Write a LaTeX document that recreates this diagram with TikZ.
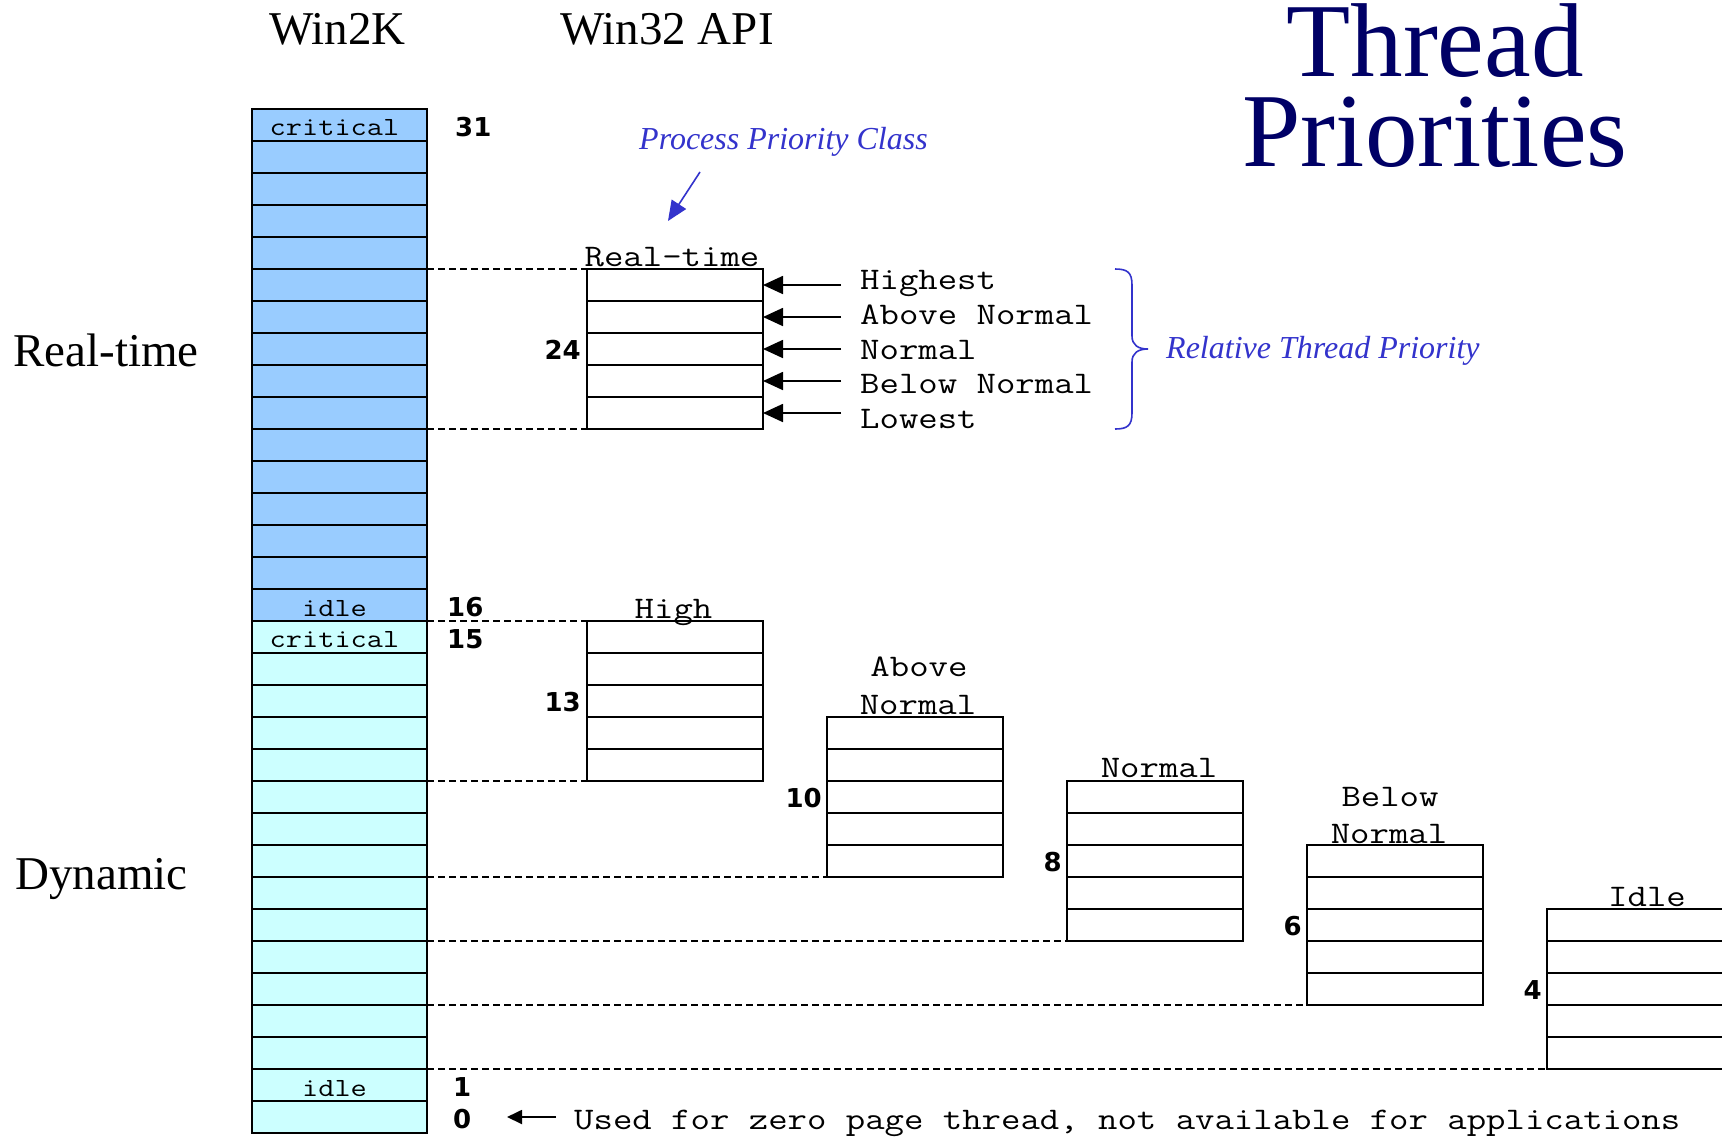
\documentclass[tikz,border=0pt]{standalone}
\usepackage{fontspec}
\setmainfont{Liberation Serif}
\newfontfamily\monof{Latin Modern Mono}[FakeStretch=1.2]
\newfontfamily\numf{DejaVu Sans}
\usetikzlibrary{arrows.meta}
\definecolor{rtblue}{RGB}{153,204,255}
\definecolor{dyncyan}{RGB}{204,255,255}
\definecolor{titleblue}{RGB}{0,0,102}
\definecolor{labblue}{RGB}{51,51,204}
\begin{document}
\begin{tikzpicture}[x=1pt,y=-1pt,
  cell/.style={draw,line width=1.6pt,minimum width=175pt,minimum height=32pt,inner sep=0pt,outer sep=0pt},
  rtcell/.style={cell,fill=rtblue},
  dyncell/.style={cell,fill=dyncyan},
  wcell/.style={cell,fill=white},
  lvl/.style={line width=1.4pt,dash pattern=on 7pt off 4pt},
  mono/.style={font=\monof\fontsize{31.4}{36}\selectfont,inner sep=0pt},
  cmono/.style={font=\monof\fontsize{26.2}{30}\selectfont,inner sep=0pt},
  num/.style={font=\numf\bfseries\fontsize{26}{30}\selectfont,inner sep=0pt},
  bigserif/.style={font=\fontsize{47}{54}\selectfont,inner sep=0pt},
  bluelab/.style={font=\itshape\fontsize{32}{38}\selectfont,text=labblue,inner sep=0pt},
  titletext/.style={font=\fontsize{105}{110}\selectfont,text=titleblue,inner sep=0pt},
  tarr/.style={line width=1.8pt,-{Triangle[length=20pt,width=18pt]}},
]
\clip (0,0) rectangle (1722,1138);
\fill[white] (0,0) rectangle (1722,1138);

% Win2K column
\foreach \p in {16,...,31} {
  \pgfmathsetmacro\yy{125+(31-\p)*32}
  \node[rtcell] (c\p) at (339.5,\yy) {};
}
\foreach \p in {0,...,15} {
  \pgfmathsetmacro\yy{125+(31-\p)*32}
  \node[dyncell] (c\p) at (339.5,\yy) {};
}
\node[cmono,anchor=base] (lcrit31) at (334.5,135) {critical};
\node[cmono,anchor=base] (lidle16) at (334.5,616) {idle};
\node[cmono,anchor=base] (lcrit15) at (334.5,647) {critical};
\node[cmono,anchor=base] (lidle1) at (334.5,1096) {idle};

% priority class boxes
\foreach \nm/\xc/\tp/\bw in {rt/675/26/176, hi/675/15/176, an/915/12/176, no/1155/10/176, bn/1395/8/176, id/1639.5/6/185} {
  \foreach \k in {0,...,4} {
    \pgfmathtruncatemacro\pp{\tp-\k}
    \pgfmathsetmacro\yy{125+(31-\pp)*32}
    \node[wcell,minimum width=\bw pt] (\nm\pp) at (\xc,\yy) {};
  }
}

% dashed level lines
\draw[lvl] (c26.north east) -- (rt26.north west);
\draw[lvl] (c22.south east) -- (rt22.south west);
\draw[lvl] (c15.north east) -- (hi15.north west);
\draw[lvl] (c11.south east) -- (hi11.south west);
\draw[lvl] (c8.south east) -- (an8.south west);
\draw[lvl] (c6.south east) -- (no6.south west);
\draw[lvl] (c4.south east) -- (bn4.south west);
\draw[lvl] (c2.south east) -- (id2.south west);

% class labels
\node[mono,anchor=base] (lrt) at (672,266) {Real-time};
\node[mono,anchor=base] (lhi) at (673.5,618) {High};
\node[mono,anchor=base] (lan1) at (919,676) {Above};
\node[mono,anchor=base] (lan2) at (918,714) {Normal};
\node[mono,anchor=base] (lno) at (1159,777) {Normal};
\node[mono,anchor=base] (lbn1) at (1390,806) {Below};
\node[mono,anchor=base] (lbn2) at (1389,843) {Normal};
\node[mono,anchor=base] (lid) at (1647,906) {Idle};

% numbers
\node[num,anchor=base west] (n31) at (455,136) {31};
\node[num,anchor=base west] (n16) at (447,616) {16};
\node[num,anchor=base west] (n15) at (447,648) {15};
\node[num,anchor=base west] (n1) at (453,1096) {1};
\node[num,anchor=base west] (n0) at (453,1128) {0};
\node[num,anchor=base east] (n24) at (581,359) {24};
\node[num,anchor=base east] (n13) at (581,711) {13};
\node[num,anchor=base east] (n10) at (822,807) {10};
\node[num,anchor=base east] (n8) at (1062,871) {8};
\node[num,anchor=base east] (n6) at (1302,935) {6};
\node[num,anchor=base east] (n4) at (1542,999) {4};

% relative thread priorities
\foreach \pp/\txt/\bl in {26/Highest/289, 25/Above Normal/324, 24/Normal/359, 23/Below Normal/393, 22/Lowest/428} {
  \pgfmathsetmacro\yy{125+(31-\pp)*32}
  \coordinate (a\pp) at (841,\yy);
  \draw[tarr] (a\pp) -- (rt\pp.east);
  \node[mono,anchor=base west] (t\pp) at (860,\bl) {\txt};
}

% brace
\draw[labblue,line width=1.6pt] (1115,269) .. controls (1127,269) and (1132,272) .. (1132,285)
  -- (1132,336) .. controls (1132,345) and (1138,349) .. (1148,349)
  .. controls (1138,349) and (1132,353) .. (1132,362)
  -- (1132,413) .. controls (1132,426) and (1127,429) .. (1115,429);
\node[bluelab,anchor=base west] (rtp) at (1166,358) {Relative Thread Priority};

% process priority class
\node[bluelab,anchor=base west] (ppc) at (639,149) {Process Priority Class};
\coordinate (ppc1) at (700,172);
\coordinate (ppc2) at (668,221);
\draw[labblue,line width=1.6pt,-{Triangle[length=20pt,width=17pt]}] (ppc1) -- (ppc2);

% headers
\node[bigserif,anchor=base west] (hw2k) at (269,44) {Win2K};
\node[bigserif,anchor=base west] (hw32) at (560,44) {Win32 API};
\node[bigserif,anchor=base west] (hrt) at (13,366) {Real-time};
\node[bigserif,anchor=base west] (hdyn) at (15,889) {Dynamic};

% title
\node[titletext,anchor=base] (tt1) at (1435,76) {Thread};
\node[titletext,anchor=base] (tt2) at (1435,166) {Priorities};

% bottom note
\node[mono,anchor=base west] (zp) at (574,1129) {Used for zero page thread, not available for applications};
\coordinate (z0) at (556,1117);
\coordinate (z1) at (507,1117);
\draw[line width=1.8pt,-{Triangle[length=15pt,width=14pt]}] (z0) -- (z1);
\end{tikzpicture}
\end{document}
